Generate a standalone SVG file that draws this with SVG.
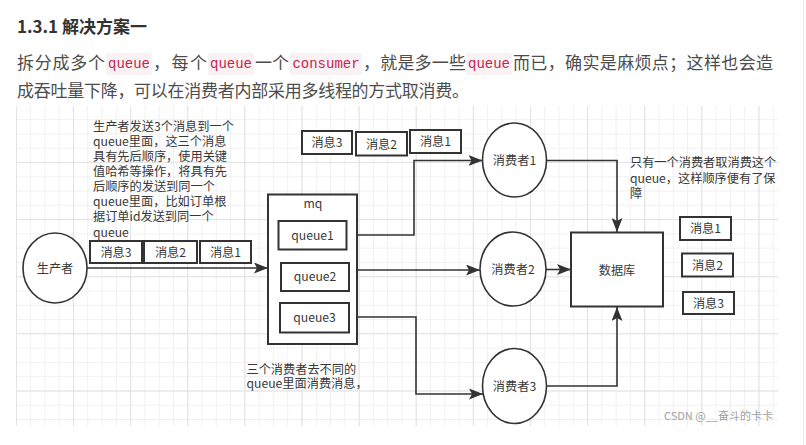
<svg xmlns="http://www.w3.org/2000/svg" width="806" height="445" viewBox="0 0 806 445">
<style>
.p{font-family:"Noto Sans CJK SC",sans-serif;font-size:17px;fill:#4d4d4d}
.c{font-family:"Liberation Mono",monospace;font-size:14px;fill:#c7254e}
.cb{fill:#f9f2f4}
.d{font-family:"Noto Sans CJK SC",sans-serif;font-size:12.2px;fill:#383838}
.box{fill:#fff;stroke:#333;stroke-width:2}
.node{fill:#fff;stroke:#333;stroke-width:1.6}
.ln{fill:none;stroke:#333;stroke-width:1.6}
.mid{text-anchor:middle}
</style>
<defs>
<pattern id="gmin" patternUnits="userSpaceOnUse" x="73" y="162" width="14.28" height="14.28">
<rect x="0" y="0" width="14.28" height="1" fill="#f0f0f0"/>
<rect x="0" y="0" width="1" height="14.28" fill="#f0f0f0"/>
</pattern>
<pattern id="gmaj" patternUnits="userSpaceOnUse" x="73" y="162" width="57.12" height="57.12">
<rect x="0" y="0" width="57.12" height="1" fill="#e2e2e2"/>
<rect x="0" y="0" width="1" height="57.12" fill="#e2e2e2"/>
</pattern>
<marker id="arr" markerUnits="userSpaceOnUse" markerWidth="15" markerHeight="11" refX="14" refY="5.5" orient="auto">
<path d="M0,0 L14,5.5 L0,11 L3,5.5 z" fill="#333"/>
</marker>
</defs>
<rect width="806" height="445" fill="#fff"/>
<line x1="803.5" y1="0" x2="803.5" y2="445" stroke="#e8e8e8" stroke-width="1"/>

<g id="header">
<text x="17" y="33" font-family="'Noto Sans CJK SC',sans-serif" font-size="17" font-weight="bold" fill="#333">1.3.1 解决方案一</text>
<text class="p" x="17" y="69" textLength="88" lengthAdjust="spacing">拆分成多个</text>
<rect class="cb" x="106" y="53" width="46" height="22" rx="2"/>
<text class="c mid" x="129" y="68">queue</text>
<text class="p" x="153" y="69" textLength="54" lengthAdjust="spacing">，每个</text>
<rect class="cb" x="208" y="53" width="46" height="22" rx="2"/>
<text class="c mid" x="231" y="68">queue</text>
<text class="p" x="255" y="69" textLength="34" lengthAdjust="spacing">一个</text>
<rect class="cb" x="290" y="53" width="72" height="22" rx="2"/>
<text class="c mid" x="326" y="68">consumer</text>
<text class="p" x="363" y="69" textLength="103" lengthAdjust="spacing">，就是多一些</text>
<rect class="cb" x="466" y="53" width="46" height="22" rx="2"/>
<text class="c mid" x="489" y="68">queue</text>
<text class="p" x="513" y="69" textLength="260" lengthAdjust="spacing">而已，确实是麻烦点；这样也会造</text>
<text class="p" x="17" y="97" textLength="452" lengthAdjust="spacing">成吞吐量下降，可以在消费者内部采用多线程的方式取消费。</text>
</g>

<g id="grid">
<rect x="16" y="106" width="762" height="320" fill="url(#gmin)"/>
<rect x="16" y="106" width="762" height="320" fill="url(#gmaj)"/>
</g>

<g id="connectors">
<path class="ln" d="M87,268 H268" marker-end="url(#arr)"/>
<path class="ln" d="M347,235 H414 V160.5 H482.5" marker-end="url(#arr)"/>
<path class="ln" d="M349,270 H480" marker-end="url(#arr)"/>
<path class="ln" d="M349,317 H416 V394 H483" marker-end="url(#arr)"/>
<path class="ln" d="M547,160.5 H617 V232" marker-end="url(#arr)"/>
<path class="ln" d="M546,269.5 H571" marker-end="url(#arr)"/>
<path class="ln" d="M547,386 H617 V307" marker-end="url(#arr)"/>
</g>

<g id="producer">
<ellipse class="node" cx="55" cy="268" rx="32" ry="35"/>
<text class="d mid" x="55" y="272.5">生产者</text>
</g>

<g id="producer-note">
<text class="d" x="93" y="130.5">生产者发送3个消息到一个</text>
<text class="d" x="93" y="145.6">queue里面，这三个消息</text>
<text class="d" x="93" y="160.8">具有先后顺序，使用关键</text>
<text class="d" x="93" y="175.9">值哈希等操作，将具有先</text>
<text class="d" x="93" y="191.1">后顺序的发送到同一个</text>
<text class="d" x="93" y="206.2">queue里面，比如订单根</text>
<text class="d" x="93" y="221.3">据订单id发送到同一个</text>
<text class="d" x="93" y="236.5">queue</text>
</g>

<g id="msgs-left">
<rect class="box" x="90" y="241" width="52" height="22"/>
<text class="d mid" x="116" y="256.5">消息3</text>
<rect class="box" x="144" y="241" width="53" height="22"/>
<text class="d mid" x="170.5" y="256.5">消息2</text>
<rect class="box" x="200" y="241" width="51" height="22"/>
<text class="d mid" x="225.5" y="256.5">消息1</text>
</g>

<g id="msgs-top">
<rect class="box" x="302" y="131" width="50" height="23"/>
<text class="d mid" x="327" y="147">消息3</text>
<rect class="box" x="356" y="132" width="51" height="23.5"/>
<text class="d mid" x="381.5" y="148.5">消息2</text>
<rect class="box" x="410" y="130" width="51" height="23"/>
<text class="d mid" x="435.5" y="146">消息1</text>
</g>

<g id="mq">
<rect class="box" x="268" y="194.5" width="89" height="149.5"/>
<text class="d mid" x="313" y="207.5">mq</text>
</g>
<g id="queue1">
<rect class="box" x="278.5" y="221" width="68" height="28.5"/>
<text class="d mid" x="312.5" y="239.5">queue1</text>
</g>
<g id="queue2">
<rect class="box" x="281" y="263" width="68" height="28"/>
<text class="d mid" x="315" y="281">queue2</text>
</g>
<g id="queue3">
<rect class="box" x="280" y="303" width="69" height="29.5"/>
<text class="d mid" x="314.5" y="321.5">queue3</text>
</g>

<g id="consumer1">
<ellipse class="node" cx="514.5" cy="160" rx="32" ry="37"/>
<text class="d mid" x="514.5" y="164.5">消费者1</text>
</g>
<g id="consumer2">
<ellipse class="node" cx="513" cy="269" rx="33" ry="37"/>
<text class="d mid" x="513" y="273.5">消费者2</text>
</g>
<g id="consumer3">
<ellipse class="node" cx="514.5" cy="386" rx="32" ry="37.5"/>
<text class="d mid" x="514.5" y="390.5">消费者3</text>
</g>

<g id="consumer-note">
<text class="d" x="246.5" y="373.5">三个消费者去不同的</text>
<text class="d" x="246.5" y="387.5">queue里面消费消息，</text>
</g>

<g id="database">
<rect class="box" x="571" y="232.5" width="92" height="74"/>
<text class="d mid" x="617" y="274.5">数据库</text>
</g>

<g id="db-note">
<text class="d" x="630" y="166.5">只有一个消费者取消费这个</text>
<text class="d" x="630" y="182.5">queue，这样顺序便有了保</text>
<text class="d" x="630" y="197.5">障</text>
</g>

<g id="msgs-right">
<rect class="box" x="680" y="217" width="51" height="23"/>
<text class="d mid" x="705.5" y="233">消息1</text>
<rect class="box" x="682" y="253.5" width="51" height="23"/>
<text class="d mid" x="707.5" y="269.5">消息2</text>
<rect class="box" x="683" y="292" width="51" height="22"/>
<text class="d mid" x="708.5" y="307.5">消息3</text>
</g>

<g id="watermark">
<text x="664" y="420" font-family="'Noto Sans CJK SC',sans-serif" font-size="11" fill="#a0a0a0">CSDN @__奋斗的卡卡</text>
</g>
</svg>
